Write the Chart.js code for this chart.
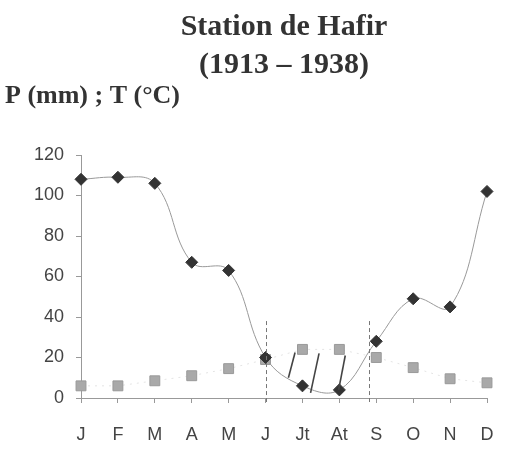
<!DOCTYPE html>
<html>
<head>
<meta charset="utf-8">
<script src="https://cdn.jsdelivr.net/npm/chart.js@4/dist/chart.umd.min.js"></script>
<style>
html,body{margin:0;padding:0;background:#fff;}
#wrap{width:505px;height:461px;}
</style>
</head>
<body>
<div id="wrap"><canvas id="c" width="505" height="461"></canvas></div>
<script>
const titleLines = ["Station de Hafir", "(1913 \u2013 1938)"];
const axisLabel = "P (mm) ; T (\u00B0C)";
const months = ["J","F","M","A","M","J","Jt","At","S","O","N","D"];
const precipitation = [108, 109, 106, 67, 63, 20, 6, 4, 28, 49, 45, 102];
const temperature = [6, 6, 8.5, 11, 14.5, 19, 24, 24, 20, 15, 9.5, 7.5];
const yTicks = [0, 20, 40, 60, 80, 100, 120];
// dry period boundaries (month index, fractional)
const dryBounds = [5, 7.8];
// hatch strokes in the dry period: [x0, y0, x1, y1] in (month index, value)
const hatchStrokes = [
  [5.62, 10, 5.80, 22.5],
  [6.22, 2.5, 6.45, 22],
  [6.98, 4, 7.16, 21]
];

const decor = {
  id: 'decor',
  afterDraw(chart) {
    const ctx = chart.ctx, xs = chart.scales.x, ys = chart.scales.y, ca = chart.chartArea;
    ctx.save();
    ctx.fillStyle = '#333';
    ctx.textAlign = 'center';
    ctx.textBaseline = 'alphabetic';
    ctx.font = 'bold 30px "Liberation Serif", "Times New Roman", serif';
    const cx = (ca.left + ca.right) / 2;
    ctx.fillText(titleLines[0], cx, 35);
    ctx.fillText(titleLines[1], cx, 73);
    ctx.textAlign = 'left';
    ctx.font = 'bold 26px "Liberation Serif", "Times New Roman", serif';
    ctx.fillText(axisLabel, 5, 103);
    // dry-period boundary lines
    ctx.strokeStyle = '#777';
    ctx.lineWidth = 1;
    ctx.setLineDash([4, 3]);
    dryBounds.forEach(b => {
      const x = Math.round(xs.getPixelForValue(b)) + 0.5;
      ctx.beginPath();
      ctx.moveTo(x, ys.getPixelForValue(38));
      ctx.lineTo(x, ys.getPixelForValue(0) + 4);
      ctx.stroke();
    });
    ctx.setLineDash([]);
    ctx.strokeStyle = '#444';
    ctx.lineWidth = 1.6;
    hatchStrokes.forEach(s => {
      ctx.beginPath();
      ctx.moveTo(xs.getPixelForValue(s[0]), ys.getPixelForValue(s[1]));
      ctx.lineTo(xs.getPixelForValue(s[2]), ys.getPixelForValue(s[3]));
      ctx.stroke();
    });
    ctx.restore();
  }
};

new Chart(document.getElementById('c'), {
  type: 'line',
  data: {
    labels: months,
    datasets: [
      {
        label: 'P (mm)',
        data: precipitation,
        borderColor: '#999',
        borderWidth: 1,
        tension: 0.4,
        pointStyle: 'rectRot',
        pointRadius: 6,
        pointBackgroundColor: '#333',
        pointBorderColor: '#333',
        pointBorderWidth: 1
      },
      {
        label: 'T (\u00B0C)',
        data: temperature,
        borderColor: '#e4e4e4',
        borderWidth: 1,
        borderDash: [2, 5],
        tension: 0,
        pointStyle: 'rect',
        pointRadius: 7,
        pointBackgroundColor: '#a9a9a9',
        pointBorderColor: '#999',
        pointBorderWidth: 1
      }
    ]
  },
  options: {
    responsive: false,
    animation: false,
    layout: { padding: { left: 0, right: 18, top: 155, bottom: 0 } },
    plugins: { legend: { display: false }, tooltip: { enabled: false }, title: { display: false } },
    scales: {
      x: {
        offset: false,
        afterFit(s) { s.height = 63; s.paddingLeft = 0; s.paddingRight = 0; },
        grid: { drawOnChartArea: false, drawTicks: true, tickLength: 5, color: '#999' },
        border: { color: '#999', width: 1 },
        ticks: { color: '#444', font: { family: '"Liberation Sans", Arial, sans-serif', size: 18 }, padding: 21, maxRotation: 0, autoSkip: false }
      },
      y: {
        min: 0, max: 120,
        afterFit(s) { s.width = 81; s.paddingTop = 0; s.paddingBottom = 0; },
        afterBuildTicks(s) { s.ticks = yTicks.map(v => ({ value: v })); },
        grid: { drawOnChartArea: false, drawTicks: true, tickLength: 5, color: '#999' },
        border: { color: '#999', width: 1 },
        ticks: { color: '#444', font: { family: '"Liberation Sans", Arial, sans-serif', size: 18 }, padding: 12 }
      }
    }
  },
  plugins: [decor]
});
</script>
</body>
</html>
